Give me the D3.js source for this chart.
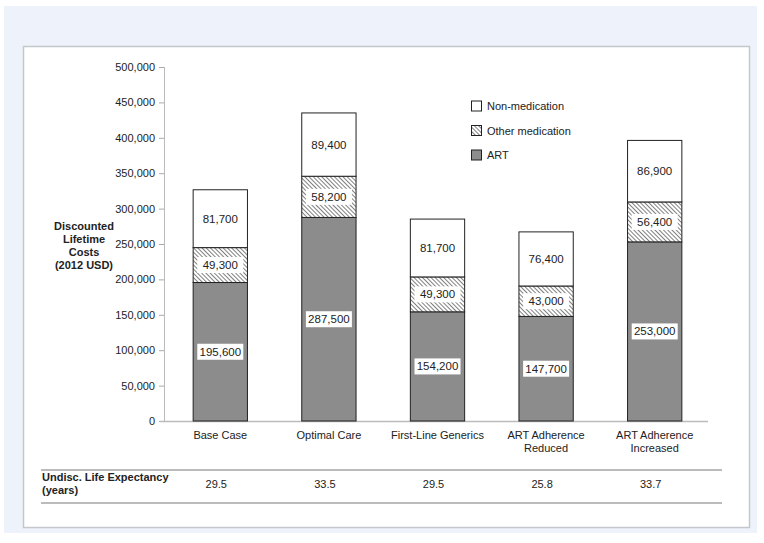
<!DOCTYPE html>
<html>
<head>
<meta charset="utf-8">
<script src="https://cdn.jsdelivr.net/npm/d3@7"></script>
<style>
  body { margin: 0; background: #fff; }
  svg text { font-family: "Liberation Sans", Arial, sans-serif; fill: #222; }
</style>
</head>
<body>
<svg id="chart" width="764" height="543"></svg>
<script>
var categories = [["Base Case"], ["Optimal Care"], ["First-Line Generics"], ["ART Adherence", "Reduced"], ["ART Adherence", "Increased"]];
var art = [195600, 287500, 154200, 147700, 253000];
var otherMed = [49300, 58200, 49300, 43000, 56400];
var nonMed = [81700, 89400, 81700, 76400, 86900];
var lifeExp = ["29.5", "33.5", "29.5", "25.8", "33.7"];
var yTicks = [0, 50000, 100000, 150000, 200000, 250000, 300000, 350000, 400000, 450000, 500000];
var seriesNames = ["Non-medication", "Other medication", "ART"];

var svg = d3.select('#chart');

// backgrounds
svg.append('rect').attr('x', 4).attr('y', 6).attr('width', 753).attr('height', 527).attr('fill', '#eef3fb');
svg.append('rect').attr('x', 23.5).attr('y', 46.5).attr('width', 726).attr('height', 481)
  .attr('fill', '#fff').attr('stroke', '#c4c8cc').attr('stroke-width', 1.5);

var defs = svg.append('defs');
var pat = defs.append('pattern').attr('id', 'hatch').attr('patternUnits', 'userSpaceOnUse')
  .attr('width', 3).attr('height', 3).attr('patternTransform', 'rotate(-45)');
pat.append('rect').attr('width', 3).attr('height', 3).attr('fill', '#fff');
pat.append('line').attr('x1', 0).attr('y1', 0).attr('x2', 0).attr('y2', 3)
  .attr('stroke', '#3a3a3a').attr('stroke-width', 1.3);

var x = d3.scaleBand().domain(d3.range(categories.length)).range([166, 709]).padding(0.5).paddingOuter(0.25);
var y = d3.scaleLinear().domain([0, 500000]).range([421, 67]);
var fmt = d3.format(',');

// y axis
var yAxis = svg.append('g').attr('transform', 'translate(164,0)')
  .call(d3.axisLeft(y).tickValues(yTicks).tickFormat(fmt).tickSize(5).tickPadding(4));
yAxis.select('.domain').remove();
yAxis.selectAll('.tick line').attr('stroke', '#aaa');
yAxis.selectAll('.tick text').style('font-size', '11px').attr('fill', '#222');
svg.append('line').attr('x1', 164.5).attr('x2', 164.5).attr('y1', 67).attr('y2', 421).attr('stroke', '#bbb');
svg.append('line').attr('x1', 160).attr('x2', 708).attr('y1', 421.5).attr('y2', 421.5).attr('stroke', '#bbb').attr('stroke-width', 1.5);

// y title
var yt = svg.append('text').attr('x', 84).attr('text-anchor', 'middle')
  .style('font-size', '11px').style('font-weight', 'bold');
['Discounted', 'Lifetime', 'Costs', '(2012 USD)'].forEach(function(t, i) {
  yt.append('tspan').attr('x', 84).attr('y', 230 + i * 13).text(t);
});

// bars
var stacks = [art, otherMed, nonMed];
var fills = ['#8c8c8c', 'url(#hatch)', '#fff'];
categories.forEach(function(c, i) {
  var base = 0;
  stacks.forEach(function(s, k) {
    var v = s[i];
    var y0 = y(base), y1 = y(base + v);
    svg.append('rect').attr('x', x(i)).attr('y', y1).attr('width', x.bandwidth()).attr('height', y0 - y1)
      .attr('fill', fills[k]).attr('stroke', '#222').attr('stroke-width', 1);
    var cx = x(i) + x.bandwidth() / 2, cy = (y0 + y1) / 2;
    if (k < 2) {
      svg.append('rect').attr('x', cx - 23).attr('y', cy - 8).attr('width', 46).attr('height', 16).attr('fill', '#fff');
    }
    svg.append('text').attr('x', cx).attr('y', cy + 4).attr('text-anchor', 'middle')
      .style('font-size', '11.5px').text(fmt(v));
    base += v;
  });
  // category labels
  c.forEach(function(line, j) {
    svg.append('text').attr('x', x(i) + x.bandwidth() / 2).attr('y', 439 + j * 13)
      .attr('text-anchor', 'middle').style('font-size', '11px').text(line);
  });
  svg.append('text').attr('x', x(i) + x.bandwidth() / 2 - 4).attr('y', 488)
    .attr('text-anchor', 'middle').style('font-size', '11px').text(lifeExp[i]);
});

// legend
var legFills = ['#fff', 'url(#hatch)', '#8c8c8c'];
seriesNames.forEach(function(n, i) {
  var ly = 101 + i * 24.5;
  svg.append('rect').attr('x', 471.5).attr('y', ly).attr('width', 10).attr('height', 10)
    .attr('fill', legFills[i]).attr('stroke', '#222');
  svg.append('text').attr('x', 487).attr('y', ly + 9).style('font-size', '11px').text(n);
});

// table
svg.append('line').attr('x1', 41).attr('x2', 722).attr('y1', 470).attr('y2', 470).attr('stroke', '#bbb').attr('stroke-width', 2);
svg.append('line').attr('x1', 41).attr('x2', 722).attr('y1', 503).attr('y2', 503).attr('stroke', '#bbb').attr('stroke-width', 2);
svg.append('text').attr('x', 42).attr('y', 481).style('font-size', '11px').style('font-weight', 'bold').text('Undisc. Life Expectancy');
svg.append('text').attr('x', 42).attr('y', 494).style('font-size', '11px').style('font-weight', 'bold').text('(years)');
</script>
</body>
</html>
